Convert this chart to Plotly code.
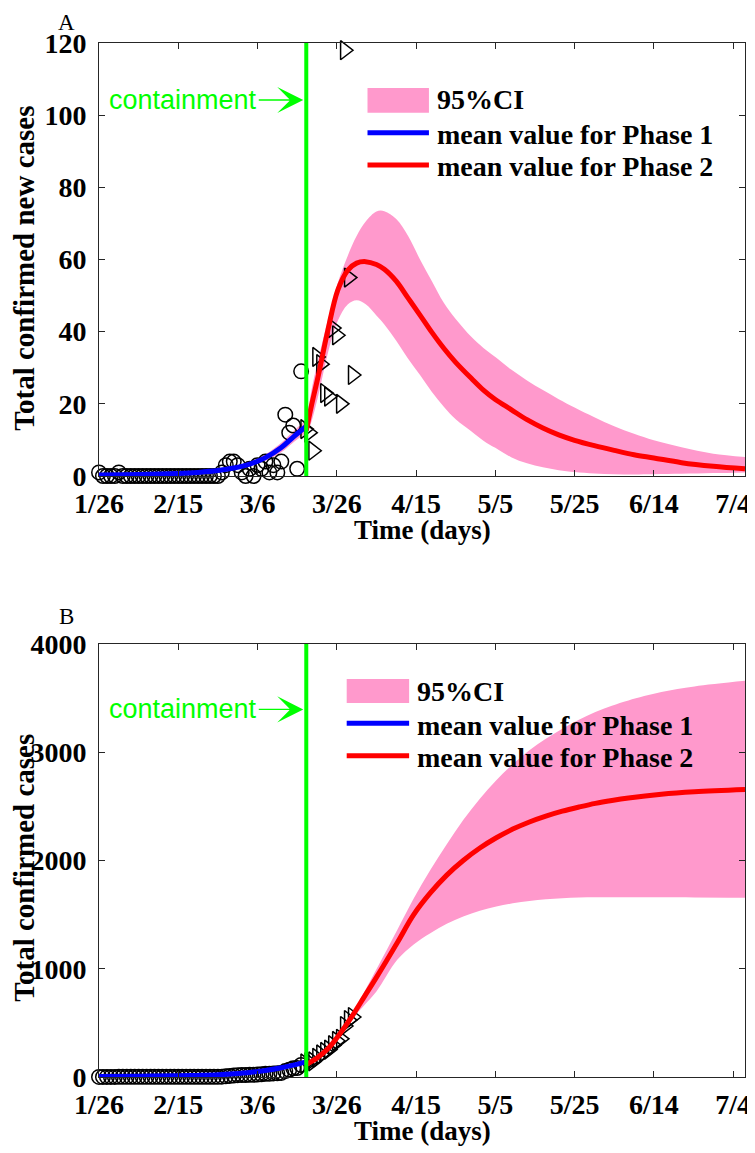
import plotly.graph_objects as go

# ---------------- data ----------------
x_tick_vals = [0, 20, 40, 60, 80, 100, 120, 140, 160]
x_tick_text = ['1/26', '2/15', '3/6', '3/26', '4/15', '5/5', '5/25', '6/14', '7/4']
containment_day = 52.3

# Panel A: observed daily new cases
phase1_days = list(range(0, 52))
phase1_new = [1, 0, 0, 0, 0, 1, 0, 0, 0, 0,
              0, 0, 0, 0, 0, 0, 0, 0, 0, 0,
              0, 0, 0, 0, 0, 0, 0, 0, 0, 0,
              0, 1, 3, 4, 4, 3, 1, 0, 2, 0,
              3, 2, 4, 1, 3, 1, 4, 17, 12, 14,
              2, 29]
phase2_days = list(range(52, 65))
phase2_new = [13, 12, 7, 33, 31, 23, 22, 41, 39, 20, 118, 55, 28]

# Panel B: observed total cases
phase1_total = [1, 1, 1, 1, 1, 2, 2, 2, 2, 2,
                2, 2, 2, 2, 2, 2, 2, 2, 2, 2,
                2, 2, 2, 2, 2, 2, 2, 2, 2, 2,
                2, 3, 6, 10, 14, 17, 18, 18, 20, 20,
                23, 25, 29, 30, 33, 34, 38, 55, 67, 81,
                83, 112]
phase2_total = [125, 137, 144, 177, 208, 231, 253, 294, 333, 353, 471, 526, 554]

# Model: phase 1 (panel A)
blue_days = [0, 10, 20, 25, 30, 34, 38, 42, 46, 49, 52.3]
blue_A = [0.3, 0.4, 0.7, 1.0, 1.5, 2.2, 3.3, 5.1, 7.9, 10.8, 13.8]
blueA_lo = [0.2, 0.3, 0.5, 0.8, 1.2, 1.8, 2.7, 4.2, 6.6, 9.3, 12.0]
blueA_hi = [0.4, 0.5, 0.9, 1.2, 1.8, 2.6, 3.9, 6.0, 9.2, 12.4, 15.6]

# Model: phase 2 (panel A)
redA_days = [52.3, 53.6, 55.25, 57.75, 60.25, 62.75, 65, 67.3, 70, 72, 75, 78, 81, 84, 87,
             90, 94, 97, 100, 104, 108, 112, 116, 120, 125, 130, 135, 140, 147, 155, 163]
red_A = [12.6, 19.5, 27.4, 40.4, 51.5, 57.0, 59.0, 59.4, 58.6, 57.3, 54.0, 49.3, 44.6, 39.8, 35.4,
         31.5, 27.0, 23.8, 21.2, 18.4, 15.6, 13.3, 11.4, 9.9, 8.4, 7.1, 5.9, 5.0, 3.7, 2.7, 2.0]
redA_hi = [14.5, 23.7, 32.0, 43.2, 53.5, 61.0, 66.5, 70.5, 73.3, 73.4, 71.2, 66.5, 60.0, 54.0, 48.0,
           43.5, 38.5, 35.5, 33.0, 29.5, 26.5, 23.8, 21.3, 19.0, 16.3, 13.8, 11.7, 9.9, 8.0, 6.2, 5.3]
redA_lo = [10.8, 15.0, 21.9, 34.0, 43.0, 47.5, 48.7, 47.6, 44.5, 42.0, 37.5, 32.5, 28.0, 23.3, 19.2,
           15.7, 12.3, 9.8, 7.8, 5.2, 3.5, 2.4, 1.6, 1.1, 0.7, 0.5, 0.45, 0.5, 0.6, 0.8, 1.0]

# Model: phase 1 (panel B)
blue_B = [5, 7, 11, 15, 21, 30, 42, 60, 85, 110, 140]
blueB_lo = [4, 6, 9, 13, 18, 26, 37, 53, 76, 99, 126]
blueB_hi = [6, 8, 13, 17, 24, 34, 47, 67, 94, 121, 154]

# Model: phase 2 (panel B)
redB_days = [52.3, 55, 58, 61, 64, 67, 70, 75.25, 79.4, 83.6, 87.75, 91.9, 96.1, 100.25, 104.4,
             108.6, 112.75, 116.9, 121.1, 125.25, 129.4, 133.6, 141.9, 150.25, 163]
red_B = [115, 175, 270, 410, 570, 745, 920, 1240, 1500, 1700, 1865, 2000, 2115, 2210, 2290,
         2356, 2410, 2456, 2494, 2528, 2555, 2578, 2612, 2634, 2655]
redB_hi = [120, 185, 290, 445, 600, 790, 995, 1359, 1650, 1912, 2150, 2373, 2570, 2742, 2890,
           3018, 3125, 3218, 3300, 3371, 3430, 3479, 3556, 3608, 3660]
redB_lo = [110, 165, 252, 380, 540, 665, 790, 1083, 1225, 1329, 1415, 1482, 1535, 1574, 1605,
           1627, 1642, 1652, 1658, 1660, 1661, 1661, 1660, 1659, 1657]

legend_labels = ['95%CI', 'mean value for Phase 1', 'mean value for Phase 2']
x_title = 'Time (days)'
y_titles = ['Total confirmed new cases', 'Total confirmed cases']
panel_letters = ['A', 'B']

# ---------------- style / layout ----------------
PINK = '#FF99CC'
BLUE = '#0000FF'
RED = '#FF0000'
GREEN = '#00FF00'
AXC = '#262626'
SERIF = 'Liberation Serif'
SANS = 'Liberation Sans'
OFF = 8                      # page offset of the plot div (body margin)
W, H = 747, 1145
ML, MR, MT, MB = 91, 4, 35, 76
PW, PH = W - ML - MR, H - MT - MB


def pxx(xp):
    """page pixel x -> paper x"""
    return (xp - OFF - ML) / PW


def pxy(yp):
    """page pixel y -> paper y"""
    return (H - MB - (yp - OFF)) / PH


fig = go.Figure()


def add_band(days, lo, hi, xa, ya):
    fig.add_trace(go.Scatter(x=days, y=lo, mode='lines', line=dict(width=0, shape='spline'),
                             xaxis=xa, yaxis=ya, showlegend=False, hoverinfo='skip'))
    fig.add_trace(go.Scatter(x=days, y=hi, mode='lines', line=dict(width=0, shape='spline'),
                             fill='tonexty', fillcolor=PINK, xaxis=xa, yaxis=ya,
                             showlegend=False, hoverinfo='skip'))


def add_panel(xa, ya, b_lo, b_hi, b_mean, r_days, r_lo, r_hi, r_mean, obs1, obs2):
    add_band(blue_days, b_lo, b_hi, xa, ya)
    add_band(r_days, r_lo, r_hi, xa, ya)
    fig.add_trace(go.Scatter(x=phase1_days, y=obs1, mode='markers', xaxis=xa, yaxis=ya,
                             marker=dict(symbol='circle-open', size=14.5, color='black',
                                         line=dict(width=1.5, color='black')),
                             cliponaxis=False, showlegend=False))
    fig.add_trace(go.Scatter(x=phase2_days, y=obs2, mode='markers', xaxis=xa, yaxis=ya,
                             marker=dict(symbol='triangle-right-open', size=16.5, color='black',
                                         line=dict(width=1.5, color='black')),
                             cliponaxis=False, showlegend=False))
    fig.add_trace(go.Scatter(x=blue_days, y=b_mean, mode='lines', xaxis=xa, yaxis=ya,
                             line=dict(color=BLUE, width=5, shape='spline'), showlegend=False))
    fig.add_trace(go.Scatter(x=r_days, y=r_mean, mode='lines', xaxis=xa, yaxis=ya,
                             line=dict(color=RED, width=5, shape='spline'), showlegend=False))


add_panel('x', 'y', blueA_lo, blueA_hi, blue_A, redA_days, redA_lo, redA_hi, red_A,
          phase1_new, phase2_new)
add_panel('x2', 'y2', blueB_lo, blueB_hi, blue_B, redB_days, redB_lo, redB_hi, red_B,
          phase1_total, phase2_total)

tickfont = dict(family=SERIF, size=28, color='black', weight='bold')


def xaxis(anchor):
    return dict(range=[0, 163], tickmode='array', tickvals=x_tick_vals, ticktext=x_tick_text,
                ticks='inside', ticklen=6, tickwidth=1, tickcolor=AXC,
                showline=True, linecolor=AXC, linewidth=1, mirror='ticks',
                showgrid=False, zeroline=False, tickfont=tickfont, anchor=anchor,
                ticklabelstandoff=2, ticklabeloverflow='allow')


def yaxis(rng, dtick, domain, anchor):
    return dict(range=rng, dtick=dtick, tick0=0, domain=domain,
                ticks='inside', ticklen=6, tickwidth=1, tickcolor=AXC,
                showline=True, linecolor=AXC, linewidth=1, mirror='ticks',
                showgrid=False, zeroline=False, tickfont=tickfont, anchor=anchor,
                ticklabelstandoff=6, ticklabeloverflow='allow')


domA = [pxy(476), 1.0]
domB = [0.0, pxy(644)]

fig.update_layout(
    width=W, height=H,
    margin=dict(l=ML, r=MR, t=MT, b=MB),
    paper_bgcolor='white', plot_bgcolor='white',
    showlegend=False,
    xaxis=xaxis('y'),
    yaxis=yaxis([0, 120], 20, domA, 'x'),
    xaxis2=xaxis('y2'),
    yaxis2=yaxis([0, 4000], 1000, domB, 'x2'),
)

shapes = []
annotations = []
for xa, ya, arrow_val in [('x', 'y', 104.2), ('x2', 'y2', 3396)]:
    shapes.append(dict(type='line', xref=xa, yref=ya + ' domain', x0=containment_day,
                       x1=containment_day, y0=0, y1=1, line=dict(color=GREEN, width=4),
                       layer='above'))
    annotations.append(dict(x=containment_day, y=arrow_val, xref=xa, yref=ya,
                            text='containment', showarrow=True, ax=-123, ay=0,
                            arrowhead=3, arrowsize=3.1, arrowwidth=1.4, arrowcolor=GREEN,
                            standoff=3, font=dict(family=SANS, size=27, color=GREEN)))

# manual legends (page pixel positions of the reference)
legend_specs = [
    (370, 432, 88, 112.7, 132.7, 165, 438, [100, 134, 166]),
    (349, 412, 679, 703, 723.3, 755.7, 418, [691.7, 725, 757]),
]
for (x0, x1, py0, py1, by, ry, tx, tys) in legend_specs:
    shapes.append(dict(type='rect', xref='paper', yref='paper', x0=pxx(x0), x1=pxx(x1),
                       y0=pxy(py1), y1=pxy(py0), fillcolor=PINK, line=dict(width=0),
                       layer='above'))
    for yy, col in [(by, BLUE), (ry, RED)]:
        shapes.append(dict(type='line', xref='paper', yref='paper', x0=pxx(x0), x1=pxx(x1),
                           y0=pxy(yy), y1=pxy(yy), line=dict(color=col, width=5),
                           layer='above'))
    for lab, ty in zip(legend_labels, tys):
        annotations.append(dict(x=pxx(tx), y=pxy(ty), xref='paper', yref='paper', text=lab,
                                showarrow=False, xanchor='left', yanchor='middle',
                                font=dict(family=SERIF, size=28, color='black', weight='bold')))

# panel letters (A hugs the top edge of the figure) and axis titles
annotations.append(dict(x=pxx(66), y=pxy(OFF) - 0.001, xref='paper', yref='paper',
                        text=panel_letters[0], showarrow=False, xanchor='center',
                        yanchor='top', borderpad=0,
                        font=dict(family=SERIF, size=23, color='black')))
annotations.append(dict(x=pxx(66), y=pxy(616), xref='paper', yref='paper',
                        text=panel_letters[1], showarrow=False, xanchor='center',
                        yanchor='middle', borderpad=0,
                        font=dict(family=SERIF, size=23, color='black')))
for yy in [530, 1131]:
    annotations.append(dict(x=pxx(425), y=pxy(yy), xref='paper', yref='paper', text=x_title,
                            showarrow=False, xanchor='center', yanchor='middle',
                            font=dict(family=SERIF, size=27, color='black', weight='bold')))
for lab, yy in zip(y_titles, [268, 868]):
    annotations.append(dict(x=pxx(23), y=pxy(yy), xref='paper', yref='paper', text=lab,
                            showarrow=False, xanchor='center', yanchor='middle', textangle=-90,
                            font=dict(family=SERIF, size=29, color='black', weight='bold')))

fig.update_layout(shapes=shapes, annotations=annotations)

fig.write_html('out.html')
